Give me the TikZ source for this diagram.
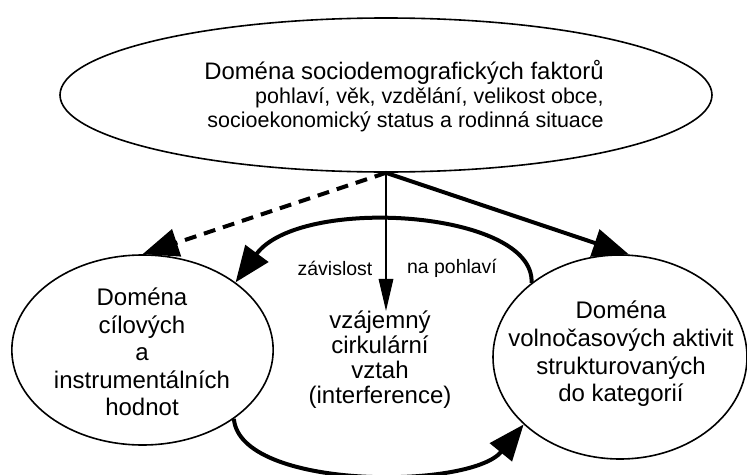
\documentclass[tikz,border=0pt]{standalone}
\usepackage{fontspec}
\setmainfont{Liberation Sans}
\usetikzlibrary{arrows.meta,shapes.geometric}
\begin{document}
\begin{tikzpicture}[x=0.75pt,y=-0.75pt,
  domainbox/.style={ellipse,draw,line width=1.2pt,inner sep=0pt},
  bigtext/.style={font=\fontsize{18}{20.6}\selectfont,align=center,inner sep=0pt},
  lbl/.style={font=\fontsize{14.6}{16}\selectfont,inner sep=0pt},
  bigtip/.style={-{Triangle[length=27pt,width=21pt]}},
  thickline/.style={line width=3pt}
]
\useasboundingbox (0,0) rectangle (747,475);
% domains
\node[domainbox,minimum width=489pt,minimum height=115.5pt] (T) at (386,95) {};
\node[domainbox,minimum width=196pt,minimum height=142.5pt] (L) at (142.5,350) {};
\node[domainbox,minimum width=190.5pt,minimum height=153pt] (R) at (620,357) {};
% texts
\node[align=right,inner sep=0pt,font=\fontsize{16.1}{18}\selectfont] (Tt) at (404,96)
  {{\fontsize{17.9}{18}\selectfont Doména sociodemografických faktorů}\\
   pohlaví, věk, vzdělání, velikost obce,\\
   socioekonomický status a rodinná situace};
\node[bigtext] (Lt) at (142,352) {Doména\\cílových\\a\\instrumentálních\\hodnot};
\node[bigtext,font=\fontsize{18}{18.75}\selectfont] (M) at (380,360) {vzájemný\\cirkulární\\vztah\\(interference)};
\node[bigtext,font=\fontsize{18}{20.8}\selectfont] (Rt) at (621,354) {Doména\\volnočasových aktivit\\strukturovaných\\do kategorií};
\node[lbl] (z) at (335,268) {závislost};
\node[lbl] (p) at (452,268) {na pohlaví};
% connectors
\draw[line width=0.8pt,-{Triangle[length=24pt,width=11pt]}] (T.south) -- (T.south |- M.north);
\draw[thickline,bigtip,dash pattern=on 9pt off 6pt] (T.south) -- (L.north);
\draw[thickline,bigtip] (T.south) -- (R.85);
\draw[thickline,bigtip] (R.140) .. controls (535,210) and (300,195) .. (L.36);
\draw[thickline,bigtip] (L.-37) .. controls (240,490) and (470,490) .. (R.-145);
\end{tikzpicture}
\end{document}
